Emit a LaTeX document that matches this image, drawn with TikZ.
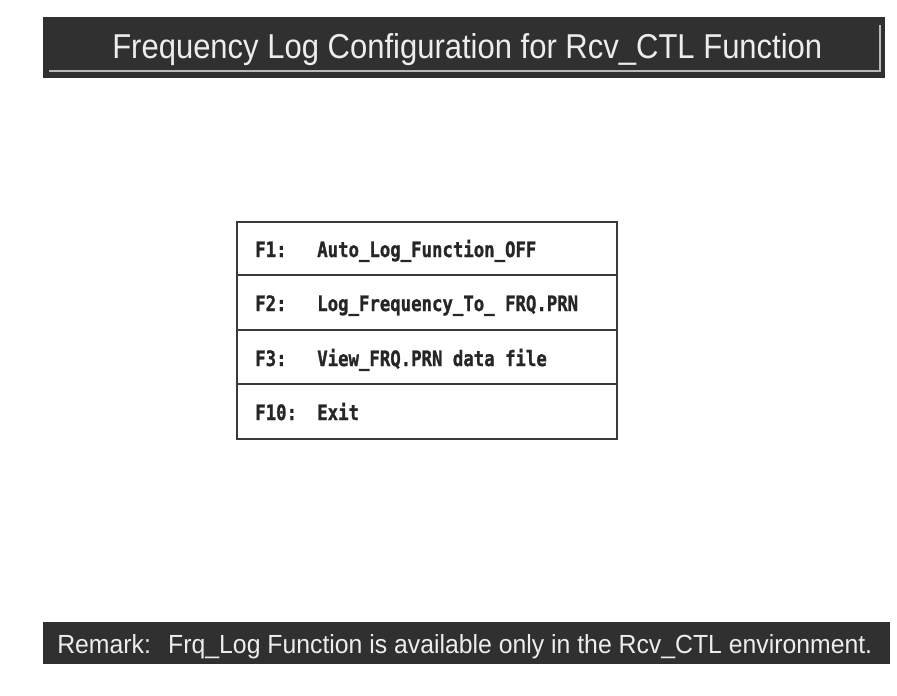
\documentclass[tikz,border=0pt]{standalone}
\usepackage{fontspec}
\setmainfont{Liberation Sans}
\newfontfamily\menufont[BoldFeatures={FakeBold=1.2}]{DejaVu Sans Mono}
\definecolor{bargray}{HTML}{303030}
\definecolor{barrule}{HTML}{B8B8B8}
\definecolor{bartext}{HTML}{EDEDED}
\definecolor{menuframe}{HTML}{3A3A3A}
\definecolor{menuink}{HTML}{262626}
% tall, narrow terminal-style lettering for the menu entries
\newcommand{\termtext}[1]{\scalebox{1}[1.22]{\menufont\bfseries\fontsize{13pt}{13pt}\selectfont #1}}
\begin{document}
\begin{tikzpicture}[x=0.75pt,y=-0.75pt,
  barfill/.style={fill=bargray},
  barlabel/.style={text=bartext, inner sep=0pt, anchor=base west},
  framebox/.style={draw=menuframe, line width=1.1pt},
  menuentry/.style={text=menuink, inner sep=0pt, anchor=base west}]
\useasboundingbox[fill=white] (0,0) rectangle (897,696);

% title bar
\fill[barfill] (43,17) rectangle (885,78);
\draw[barrule, line width=0.8pt] (49,71) -- (880,71) -- (880,25);
\node[barlabel] (title) at (112,58)
  {\resizebox{532.5pt}{18.75pt}{\fontsize{24pt}{24pt}\selectfont Frequency Log Configuration for Rcv\_CTL Function}};

% menu frame and row separators
\draw[framebox] (237,222) rectangle (617,439);
\draw[framebox] (237,275) -- (617,275);
\draw[framebox] (237,330) -- (617,330);
\draw[framebox] (237,384) -- (617,384);

\node[menuentry] (k1) at (255,257) {\termtext{F1:}};
\node[menuentry] (t1) at (317,257) {\termtext{Auto\_Log\_Function\_OFF}};
\node[menuentry] (k2) at (255,311) {\termtext{F2:}};
\node[menuentry] (t2) at (317,311) {\termtext{Log\_Frequency\_To\_ FRQ.PRN}};
\node[menuentry] (k3) at (255,366) {\termtext{F3:}};
\node[menuentry] (t3) at (317,366) {\termtext{View\_FRQ.PRN data file}};
\node[menuentry] (k4) at (255,420) {\termtext{F10:}};
\node[menuentry] (t4) at (317,420) {\termtext{Exit}};

% remark bar
\fill[barfill] (43,622) rectangle (890,664);
\node[barlabel] (remark) at (57,653)
  {\resizebox{611.25pt}{14.25pt}{\fontsize{20pt}{20pt}\selectfont Remark:\hspace{0.7em}Frq\_Log Function is available only in the Rcv\_CTL environment.}};
\end{tikzpicture}
\end{document}
